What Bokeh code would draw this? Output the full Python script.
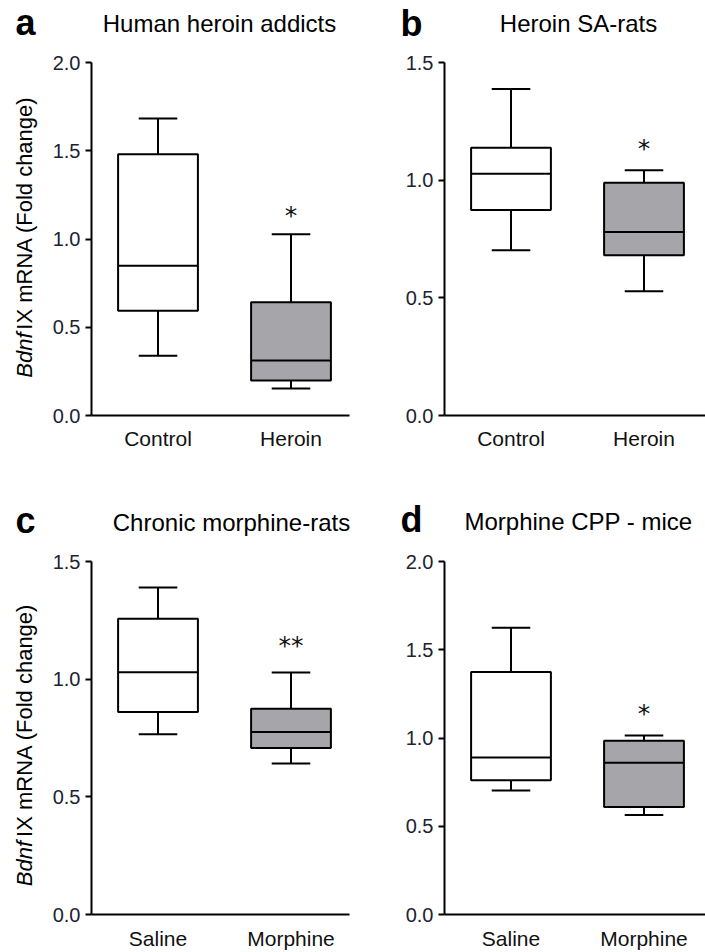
import numpy as np
from bokeh.plotting import figure
from bokeh.layouts import column, row
from bokeh.models import Range1d, FixedTicker, PrintfTickFormatter, Label, ColumnDataSource
from bokeh.core.properties import value
from bokeh.embed import file_html
from bokeh.resources import INLINE

# ---------------- data ----------------
a_cats = ["Control", "Heroin"]
a_low = [0.338, 0.153]
a_q1 = [0.593, 0.198]
a_med = [0.848, 0.312]
a_q3 = [1.480, 0.642]
a_high = [1.683, 1.027]
a_sig = ["", "*"]
a_sig_y = [0.0, 1.133]
a_yticks = [0.0, 0.5, 1.0, 1.5, 2.0]

b_cats = ["Control", "Heroin"]
b_low = [0.702, 0.528]
b_q1 = [0.873, 0.681]
b_med = [1.027, 0.780]
b_q3 = [1.138, 0.989]
b_high = [1.387, 1.042]
b_sig = ["", "*"]
b_sig_y = [0.0, 1.136]
b_yticks = [0.0, 0.5, 1.0, 1.5]

c_cats = ["Saline", "Morphine"]
c_low = [0.766, 0.642]
c_q1 = [0.861, 0.707]
c_med = [1.029, 0.775]
c_q3 = [1.257, 0.874]
c_high = [1.390, 1.028]
c_sig = ["", "**"]
c_sig_y = [0.0, 1.143]
c_yticks = [0.0, 0.5, 1.0, 1.5]

d_cats = ["Saline", "Morphine"]
d_low = [0.703, 0.564]
d_q1 = [0.760, 0.609]
d_med = [0.890, 0.860]
d_q3 = [1.374, 0.984]
d_high = [1.625, 1.014]
d_sig = ["", "*"]
d_sig_y = [0.0, 1.137]
d_yticks = [0.0, 0.5, 1.0, 1.5, 2.0]

titles = ["Human heroin addicts", "Heroin SA-rats", "Chronic morphine-rats", "Morphine CPP - mice"]
letters = ["a", "b", "c", "d"]
ylabel_italic = "Bdnf"
ylabel_rest = "IX mRNA (Fold change)"
fills = ["white", "#a6a5a9"]

FONT = "Liberation Sans"
PX_PER_UNIT = 133.0
BOX_HALF = 0.30
CAP_HALF = 0.145
TOTAL_W = 705
BASE_K = 0.40      # empirical baseline correction (fraction of font size)
YL_SHIFT = 37      # empirical correction for rotated label start


def blank_fig(w, h):
    f = figure(width=w, height=h, output_backend="svg", toolbar_location=None,
               x_range=Range1d(0, w), y_range=Range1d(h, 0),
               x_axis_type=None, y_axis_type=None,
               min_border_left=0, min_border_right=0, min_border_top=0, min_border_bottom=0)
    f.outline_line_color = None
    f.xgrid.visible = False
    f.ygrid.visible = False
    return f


def header(h, items):
    f = blank_fig(TOTAL_W, h)
    for (txt, x, y, fs, style, align) in items:
        f.text(x=[x], y=[y - BASE_K * fs], text=[txt], text_font=value(FONT),
               text_font_size=f"{fs}px", text_font_style=style, text_align=align,
               text_baseline="alphabetic", text_color="black")
    return f


def ylabel_fig(w, h, xc, ybottom):
    f = blank_fig(w, h)
    fs = 22
    bdnf_w = 2.057 * fs
    space_w = 0.55 * fs
    y0 = ybottom + YL_SHIFT
    f.text(x=[xc], y=[y0], text=[ylabel_italic], angle=np.pi / 2,
           text_font=value(FONT), text_font_size=f"{fs}px", text_font_style="italic",
           text_align="left", text_baseline="middle", text_color="black")
    f.text(x=[xc], y=[y0 - bdnf_w - space_w], text=[ylabel_rest], angle=np.pi / 2,
           text_font=value(FONT), text_font_size=f"{fs}px", text_font_style="normal",
           text_align="left", text_baseline="middle", text_color="black")
    return f


def make_panel(cats, low, q1, med, q3, high, sig, sig_y, yticks,
               width, height, bl, br, bt, bb, xstandoff):
    fw = width - bl - br
    p = figure(width=width, height=height, output_backend="svg", toolbar_location=None,
               x_range=Range1d(0.5, 0.5 + fw / PX_PER_UNIT),
               y_range=Range1d(yticks[0], yticks[-1]),
               min_border_left=bl, min_border_right=br, min_border_top=bt, min_border_bottom=bb)
    p.outline_line_color = None
    p.xgrid.visible = False
    p.ygrid.visible = False

    x = np.arange(1, len(cats) + 1, dtype=float)
    src = ColumnDataSource(dict(x=x, low=low, q1=q1, med=med, q3=q3, high=high,
                                left=x - BOX_HALF, right=x + BOX_HALF,
                                cl=x - CAP_HALF, cr=x + CAP_HALF, fill=fills[:len(cats)]))
    p.segment(x0="x", y0="q3", x1="x", y1="high", source=src, line_color="black", line_width=2)
    p.segment(x0="x", y0="low", x1="x", y1="q1", source=src, line_color="black", line_width=2)
    p.segment(x0="cl", y0="high", x1="cr", y1="high", source=src, line_color="black", line_width=2)
    p.segment(x0="cl", y0="low", x1="cr", y1="low", source=src, line_color="black", line_width=2)
    p.quad(left="left", right="right", bottom="q1", top="q3", source=src,
           fill_color="fill", line_color="black", line_width=2)
    p.segment(x0="left", y0="med", x1="right", y1="med", source=src, line_color="black", line_width=2)

    for xi, s, sy in zip(x, sig, sig_y):
        if s:
            p.add_layout(Label(x=xi, y=sy, text=s, text_align="center", text_baseline="alphabetic",
                               text_font="DejaVu Sans", text_font_size="25px", text_color="#111"))

    p.xaxis.ticker = FixedTicker(ticks=list(x))
    p.xaxis.major_label_overrides = {int(xi): c for xi, c in zip(x, cats)}
    p.xaxis.major_tick_line_color = None
    p.xaxis.minor_tick_line_color = None
    p.xaxis.axis_line_width = 2
    p.xaxis.axis_line_color = "black"
    p.xaxis.major_label_text_font = FONT
    p.xaxis.major_label_text_font_size = "21px"
    p.xaxis.major_label_text_color = "#111"
    p.xaxis.major_label_standoff = xstandoff

    p.yaxis.ticker = FixedTicker(ticks=yticks)
    p.yaxis.formatter = PrintfTickFormatter(format="%.1f")
    p.yaxis.minor_tick_line_color = None
    p.yaxis.major_tick_in = 0
    p.yaxis.major_tick_out = 6
    p.yaxis.major_tick_line_width = 2
    p.yaxis.axis_line_width = 2
    p.yaxis.axis_line_color = "black"
    p.yaxis.major_label_text_font = FONT
    p.yaxis.major_label_text_font_size = "20px"
    p.yaxis.major_label_text_color = "#1c2230"
    p.yaxis.major_label_standoff = 5
    return p


# ---- layout geometry (pixels) ----
H1, R1, H2, R2 = 44, 421, 76, 411
YL_W = 46

head1 = header(H1, [
    (letters[0], 15, 36, 36, "bold", "left"),
    (titles[0], 219, 33, 24, "normal", "center"),
    (letters[1], 400, 37, 36, "bold", "left"),
    (titles[1], 578, 33, 24, "normal", "center"),
])
head2 = header(H2, [
    (letters[2], 15, 69, 36, "bold", "left"),
    (titles[2], 231, 67, 24, "normal", "center"),
    (letters[3], 400, 68, 36, "bold", "left"),
    (titles[3], 578, 66, 24, "normal", "center"),
])

yla = ylabel_fig(YL_W, R1, 24, 339)
pa = make_panel(a_cats, a_low, a_q1, a_med, a_q3, a_high, a_sig, a_sig_y, a_yticks,
                361 - YL_W, R1, 91 - YL_W, 12, 18, 50, 5)
pb = make_panel(b_cats, b_low, b_q1, b_med, b_q3, b_high, b_sig, b_sig_y, b_yticks,
                TOTAL_W - 361, R1, 83, 0, 18, 50, 5)

ylc = ylabel_fig(YL_W, R2, 24, 341)
pc = make_panel(c_cats, c_low, c_q1, c_med, c_q3, c_high, c_sig, c_sig_y, c_yticks,
                361 - YL_W, R2, 91 - YL_W, 12, 20, 38, 6)
pd_ = make_panel(d_cats, d_low, d_q1, d_med, d_q3, d_high, d_sig, d_sig_y, d_yticks,
                 TOTAL_W - 361, R2, 83, 0, 20, 38, 6)

layout = column(head1, row(yla, pa, pb), head2, row(ylc, pc, pd_))
open("out.html", "w").write(file_html(layout, INLINE))
